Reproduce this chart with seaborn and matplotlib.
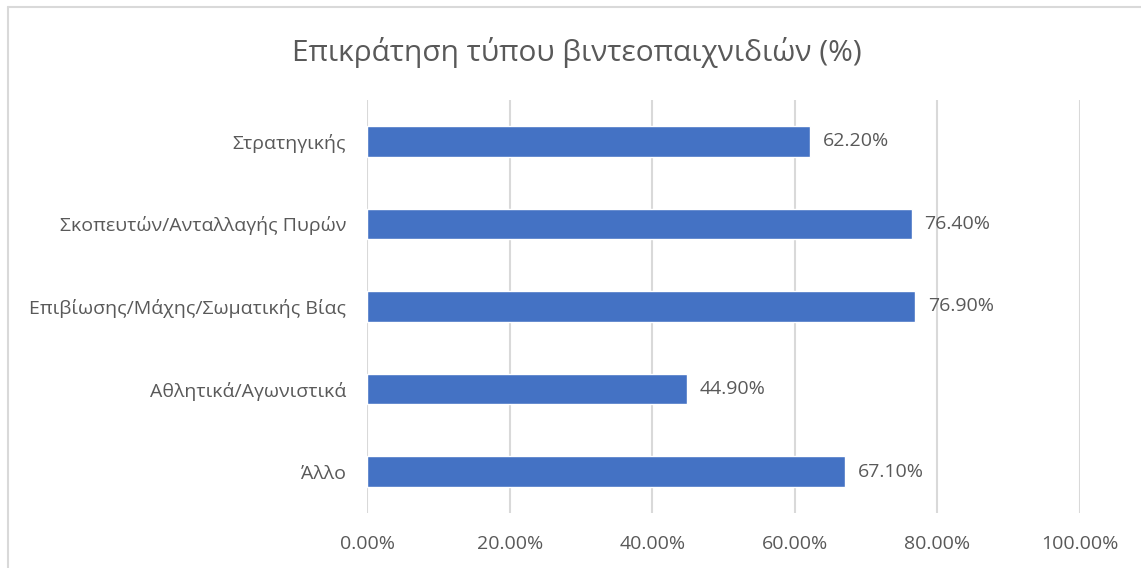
import matplotlib
matplotlib.use("Agg")
import matplotlib.pyplot as plt
from matplotlib.lines import Line2D
from matplotlib.ticker import FuncFormatter
import seaborn as sns
import pandas as pd

categories = [
    "Στρατηγικής",
    "Σκοπευτών/Ανταλλαγής Πυρών",
    "Επιβίωσης/Μάχης/Σωματικής Βίας",
    "Αθλητικά/Αγωνιστικά",
    "Άλλο",
]
values = [62.2, 76.4, 76.9, 44.9, 67.1]
x_ticks = [0, 20, 40, 60, 80, 100]
title = "Επικράτηση τύπου βιντεοπαιχνιδιών (%)"

df = pd.DataFrame({"category": categories, "value": values})

sns.set_theme(style="white")
plt.rcParams["font.family"] = ["Open Sans", "DejaVu Sans"]

text_color = "#595959"
grid_color = "#d9d9d9"
bar_color = "#4472c4"
label_size = 14

fig = plt.figure(figsize=(11.41, 5.68), dpi=100)
ax = fig.add_axes([0.3217, 0.0968, 0.6248, 0.7272])

sns.barplot(data=df, x="value", y="category", orient="h", color=bar_color,
            saturation=1, width=0.37, ax=ax)

ax.set_xlim(0, 100)
ax.set_ylim(len(categories) - 0.5, -0.5)
ax.set_xticks(x_ticks)
ax.xaxis.set_major_formatter(FuncFormatter(lambda v, _: f"{v:.2f}%"))
ax.set_xlabel("")
ax.set_ylabel("")
ax.grid(axis="x", color=grid_color, linewidth=1.5)
ax.set_axisbelow(True)
for s in ax.spines.values():
    s.set_visible(False)
ax.tick_params(axis="both", length=0, labelsize=label_size,
               labelcolor=text_color)
ax.tick_params(axis="x", pad=16)
ax.tick_params(axis="y", pad=15)

for i, v in enumerate(values):
    ax.text(v + 1.8, i, f"{v:.2f}%", va="center", ha="left",
            fontsize=label_size, color=text_color)

fig.text(0.506, 0.907, title, ha="center", va="center", fontsize=21.5,
         color=text_color)

# light frame on the left and top edges
fig.add_artist(Line2D([0.0066, 0.0066], [0, 0.988], color=grid_color,
                      linewidth=1.5, transform=fig.transFigure))
fig.add_artist(Line2D([0.0066, 1.0], [0.988, 0.988], color=grid_color,
                      linewidth=1.5, transform=fig.transFigure))

fig.savefig("out.png", dpi=100, facecolor="white")
